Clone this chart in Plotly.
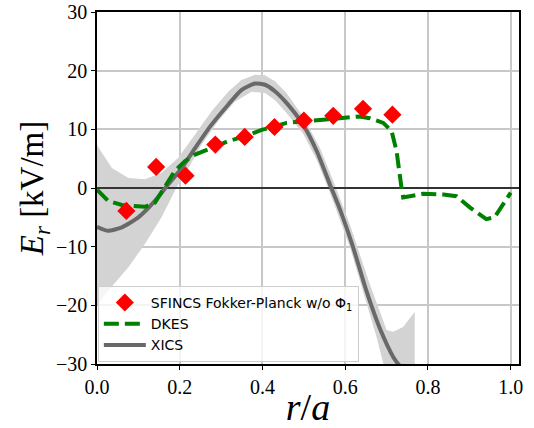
import plotly.graph_objects as go

# ---------------- data ----------------
r_sfincs = [0.071, 0.143, 0.214, 0.286, 0.357, 0.429, 0.500, 0.571, 0.643, 0.714]
er_sfincs = [-3.9, 3.6, 2.1, 7.4, 8.7, 10.4, 11.5, 12.3, 13.5, 12.5]

r_dkes = [0.0, 0.007, 0.027, 0.060, 0.116, 0.140, 0.164, 0.188, 0.213, 0.237, 0.277,
          0.317, 0.357, 0.398, 0.430, 0.458, 0.539, 0.635, 0.659, 0.692, 0.712,
          0.724, 0.736, 0.740, 0.756, 0.788, 0.837, 0.869, 0.901, 0.941, 0.961,
          0.981, 1.0]
er_dkes = [-0.3, -0.8, -2.2, -2.9, -3.2, -2.5, 0.05, 2.9, 4.6, 5.7, 6.8,
           8.0, 8.8, 9.9, 10.5, 11.1, 11.6, 12.2, 11.9, 11.1, 9.7,
           6.3, 0.05, -1.6, -1.4, -1.0, -1.1, -1.4, -3.3, -5.3, -5.0,
           -2.8, -0.8]

r_xics = [0.0, 0.027, 0.060, 0.100, 0.140, 0.172, 0.205, 0.237, 0.277, 0.317, 0.349,
          0.382, 0.406, 0.430, 0.458, 0.498, 0.531, 0.563, 0.587, 0.619, 0.651,
          0.684, 0.716, 0.728, 0.770]
er_xics = [-6.6, -7.3, -6.7, -5.0, -2.2, 0.6, 3.4, 6.8, 10.8, 14.2, 16.7,
           17.8, 17.6, 16.5, 14.5, 10.8, 6.3, 0.6, -3.6, -10.1, -17.5,
           -24.0, -28.8, -30.0, -33.0]

r_band_upper = [0.0, 0.036, 0.076, 0.116, 0.156, 0.196, 0.237, 0.277, 0.317, 0.349,
                0.382, 0.406, 0.430, 0.458, 0.498, 0.539, 0.571, 0.611, 0.659,
                0.700, 0.716, 0.740, 0.768]
er_band_upper = [7.3, 3.4, 1.7, 1.5, 2.6, 5.1, 9.1, 13.1, 16.4, 18.4,
                 19.3, 19.2, 18.2, 16.2, 12.2, 6.8, 1.2, -6.2, -16.3,
                 -24.2, -24.5, -23.7, -21.1]
r_band_lower = [0.0, 0.027, 0.076, 0.116, 0.156, 0.192, 0.221, 0.253, 0.293, 0.333,
                0.374, 0.406, 0.430, 0.458, 0.498, 0.531, 0.563, 0.611, 0.651,
                0.676, 0.692, 0.730, 0.768]
er_band_lower = [-20.0, -17.5, -13.5, -9.5, -5.0, 0.05, 3.4, 7.4, 11.4, 14.7,
                 16.4, 16.2, 15.0, 12.8, 9.3, 4.8, -0.8, -10.0, -19.5,
                 -25.5, -29.9, -36.0, -40.0]

x_range = [0.0, 1.02]
y_range = [-30, 30]
x_ticks = [0.0, 0.2, 0.4, 0.6, 0.8, 1.0]
x_ticklabels = ["0.0", "0.2", "0.4", "0.6", "0.8", "1.0"]
y_ticks = [-30, -20, -10, 0, 10, 20, 30]
y_ticklabels = ["\u221230", "\u221220", "\u221210", "0", "10", "20", "30"]

# ---------------- figure ----------------
fig = go.Figure()

band_x = r_band_upper + r_band_lower[::-1]
band_y = er_band_upper + er_band_lower[::-1]
fig.add_trace(go.Scatter(x=band_x, y=band_y, fill="toself", mode="lines",
                         line=dict(width=0), fillcolor="#d3d3d3",
                         showlegend=False, hoverinfo="skip"))

fig.add_trace(go.Scatter(x=x_range, y=[0, 0], mode="lines",
                         line=dict(color="black", width=1.5),
                         showlegend=False, hoverinfo="skip"))

fig.add_trace(go.Scatter(x=r_xics, y=er_xics, mode="lines", name="XICS",
                         line=dict(color="#696969", width=4, shape="spline",
                                   smoothing=0.6)))

fig.add_trace(go.Scatter(x=r_dkes, y=er_dkes, mode="lines", name="DKES",
                         line=dict(color="#008000", width=4, dash="15px,6px")))

fig.add_trace(go.Scatter(x=r_sfincs, y=er_sfincs, mode="markers",
                         name="SFINCS Fokker-Planck w/o \u03a6<sub>1</sub>",
                         marker=dict(symbol="diamond", color="red", size=14,
                                     line=dict(width=0))))

tick_font = dict(family="Liberation Serif", size=20, color="black")
axis_common = dict(showgrid=True, gridcolor="#c8c8c8", gridwidth=1.5,
                   zeroline=False, showline=True, linecolor="black", linewidth=1.5,
                   mirror=True, ticks="outside", ticklen=4, tickwidth=1,
                   tickcolor="black", tickfont=tick_font, automargin=False,
                   ticklabeloverflow="allow")

fig.update_xaxes(range=x_range, tickvals=x_ticks, ticktext=x_ticklabels,
                 title=dict(text="<i>r</i>/<i>a</i>",
                            font=dict(family="Liberation Serif", size=38, color="black"),
                            standoff=2),
                 **axis_common)
fig.update_yaxes(range=y_range, tickvals=y_ticks, ticktext=y_ticklabels,
                 title=dict(text="<i>E</i><sub><i>r</i></sub> [kV/m]",
                            font=dict(family="Liberation Serif", size=33, color="black"),
                            standoff=2),
                 **axis_common)

fig.update_layout(
    width=534, height=428,
    margin=dict(l=97, r=15, t=12, b=64),
    paper_bgcolor="white", plot_bgcolor="white",
    legend=dict(x=0.002, y=0.006, xanchor="left", yanchor="bottom",
                bgcolor="rgba(255,255,255,0.8)", bordercolor="#cccccc", borderwidth=1,
                font=dict(family="DejaVu Sans", size=14, color="black"),
                traceorder="reversed", tracegroupgap=0, itemwidth=42),
)

fig.write_html("out.html", config={"displayModeBar": False},
               post_script="document.body.style.margin='0px';document.body.style.overflow='hidden';")
